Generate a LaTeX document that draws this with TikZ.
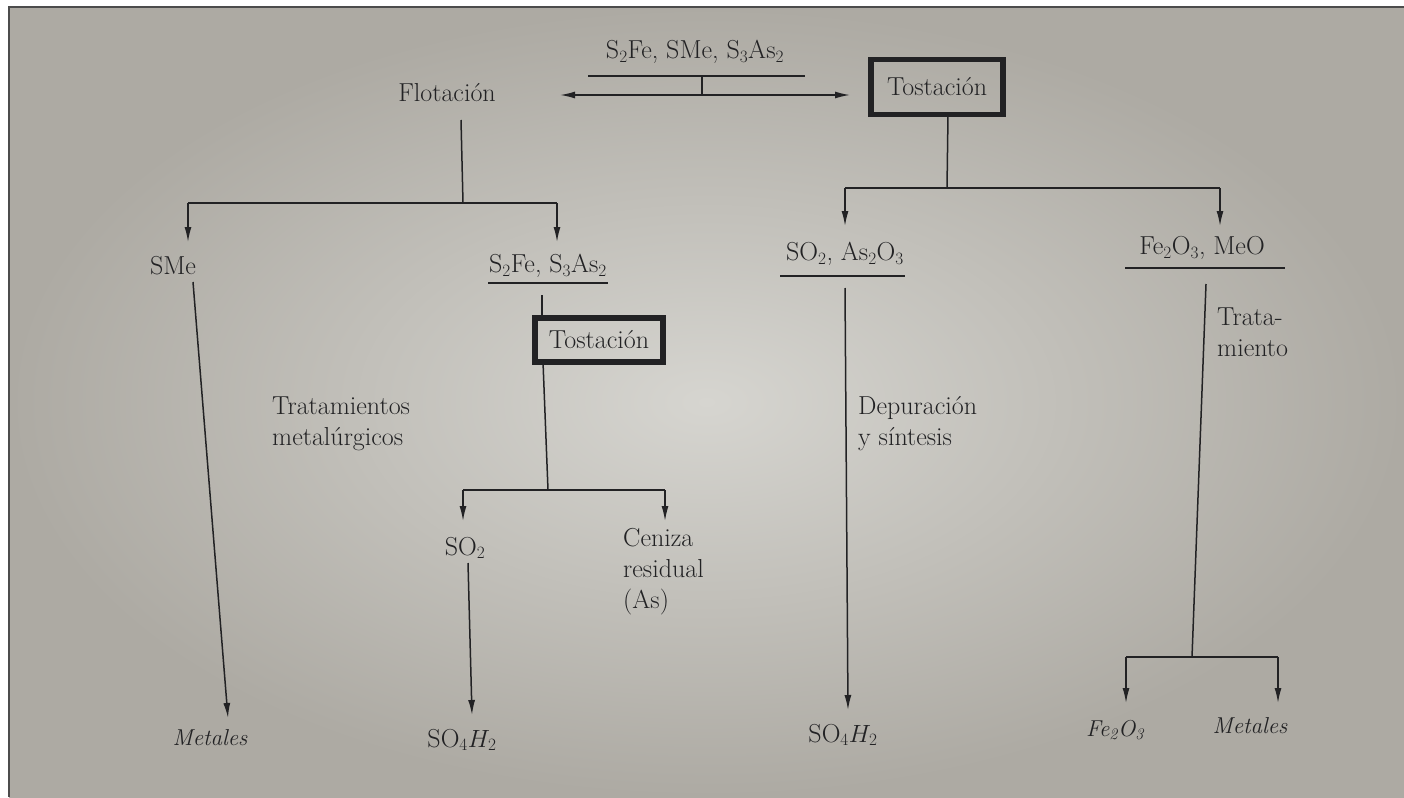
\documentclass[tikz,border=0pt]{standalone}
\usepackage{fontspec}
\usetikzlibrary{arrows.meta}
\definecolor{ink}{HTML}{222224}
\definecolor{paperin}{HTML}{D6D5D0}
\definecolor{paperout}{HTML}{ADAAA3}
\tikzset{
  lbl/.style={font=\fontsize{26}{31}\selectfont, text=ink, inner sep=0pt},
  lblit/.style={lbl, font=\fontsize{23}{28}\selectfont\itshape},
  multi/.style={lbl, align=left, anchor=north west},
  ln/.style={draw=ink, line width=1.5pt},
  arr/.style={ln, -{Latex[length=15pt,width=7pt]}},
  bigbox/.style={lbl, draw=ink, line width=5.5pt, inner sep=0pt},
}
\begin{document}
\begin{tikzpicture}[x=1pt,y=-1pt]
\useasboundingbox (0,0) rectangle (1404,797);
\fill[white] (0,0) rectangle (1404,797);
\shade[inner color=paperin, outer color=paperout] (9,7) rectangle (1404,797);
\draw[line width=2pt, black!70] (9,797) -- (9,7) -- (1404,7);

% ---------- nodes ----------
\node[lbl] (top) at (695,52) {S$_2$Fe, SMe, S$_3$As$_2$};
\node[lbl] (flot) at (447,93) {Flotación};
\node[bigbox, minimum width=132pt, minimum height=55pt] (tost1) at (937,87) {Tostación};
\node[lbl] (sme) at (173,266) {SMe};
\node[lbl] (s2fe) at (548,266) {S$_2$Fe, S$_3$As$_2$};
\node[bigbox, minimum width=128pt, minimum height=44pt] (tost2) at (599,340) {Tostación};
\node[lbl] (so2) at (465,548) {SO$_2$};
\node[multi] (ceniza) at (623,528) {Ceniza\\residual\\(As)};
\node[lbl] (so4a) at (462,740) {SO$_4$$H_2$};
\node[lblit] (met1) at (210,738) {Metales};
\node[multi] (trat1) at (272,397) {Tratamientos\\metalúrgicos};
\node[multi] (depur) at (858,396) {Depuración\\y síntesis};
\node[lbl] (so2as) at (845,254) {SO$_2$, As$_2$O$_3$};
\node[lbl] (femeo) at (1202,248) {Fe$_2$O$_3$, MeO};
\node[multi] (tratam) at (1217,308) {Trata-\\miento};
\node[lbl] (so4b) at (843,735) {SO$_4$$H_2$};
\node[lblit] (fe2o3) at (1115,730) {Fe\textsubscript{2}O\textsubscript{3}};
\node[lblit] (met2) at (1250,726) {Metales};

% ---------- coordinates ----------
\coordinate (topL) at (588,76);
\coordinate (topR) at (805,76);
\coordinate (topJ) at (702,76);
\coordinate (topM) at (702,95);
\coordinate (flotTip) at (560,95);
\coordinate (tostTip) at (850,95);

\coordinate (flotD) at (461,120);
\coordinate (lJ) at (463,203);
\coordinate (lL) at (188,203);
\coordinate (lR) at (557,203);
\coordinate (lLt) at (188,242);
\coordinate (lRt) at (557,242);

\coordinate (s2L) at (488,283);
\coordinate (s2R) at (608,283);
\coordinate (s2D) at (542,295);
\coordinate (t2in) at (542,318);
\coordinate (t2out) at (543,362);
\coordinate (mJ) at (548,490);
\coordinate (mL) at (463,490);
\coordinate (mR) at (665,490);
\coordinate (mLt) at (463,521);
\coordinate (mRt) at (665,521);

\coordinate (smeD) at (193,282);
\coordinate (met1T) at (228,718);
\coordinate (so2D) at (468,563);
\coordinate (so4aT) at (472,715);

\coordinate (t1D) at (948,115);
\coordinate (rJ) at (947,188);
\coordinate (rL) at (845,188);
\coordinate (rR) at (1220,188);
\coordinate (rLt) at (845,226);
\coordinate (rRt) at (1220,226);

\coordinate (saL) at (780,276);
\coordinate (saR) at (905,276);
\coordinate (saD) at (845,288);
\coordinate (so4bT) at (848,710);

\coordinate (fmL) at (1125,268);
\coordinate (fmR) at (1285,268);
\coordinate (fmD) at (1206,284);
\coordinate (fJ) at (1192,657);
\coordinate (fL) at (1126,657);
\coordinate (fR) at (1278,657);
\coordinate (fLt) at (1126,703);
\coordinate (fRt) at (1278,703);

% ---------- connectors ----------
\draw[ln] (topL) -- (topR);
\draw[ln] (topJ) -- (topM);
\draw[arr] (topM) -- (flotTip);
\draw[arr] (topM) -- (tostTip);

\draw[ln] (flotD) -- (lJ);
\draw[ln] (lL) -- (lR);
\draw[arr] (lL) -- (lLt);
\draw[arr] (lR) -- (lRt);

\draw[ln] (s2L) -- (s2R);
\draw[ln] (s2D) -- (t2in);
\draw[ln] (t2out) -- (mJ);
\draw[ln] (mL) -- (mR);
\draw[arr] (mL) -- (mLt);
\draw[arr] (mR) -- (mRt);

\draw[arr] (smeD) -- (met1T);
\draw[arr] (so2D) -- (so4aT);

\draw[ln] (t1D) -- (rJ);
\draw[ln] (rL) -- (rR);
\draw[arr] (rL) -- (rLt);
\draw[arr] (rR) -- (rRt);

\draw[ln] (saL) -- (saR);
\draw[arr] (saD) -- (so4bT);

\draw[ln] (fmL) -- (fmR);
\draw[ln] (fmD) -- (fJ);
\draw[ln] (fL) -- (fR);
\draw[arr] (fL) -- (fLt);
\draw[arr] (fR) -- (fRt);
\end{tikzpicture}
\end{document}
